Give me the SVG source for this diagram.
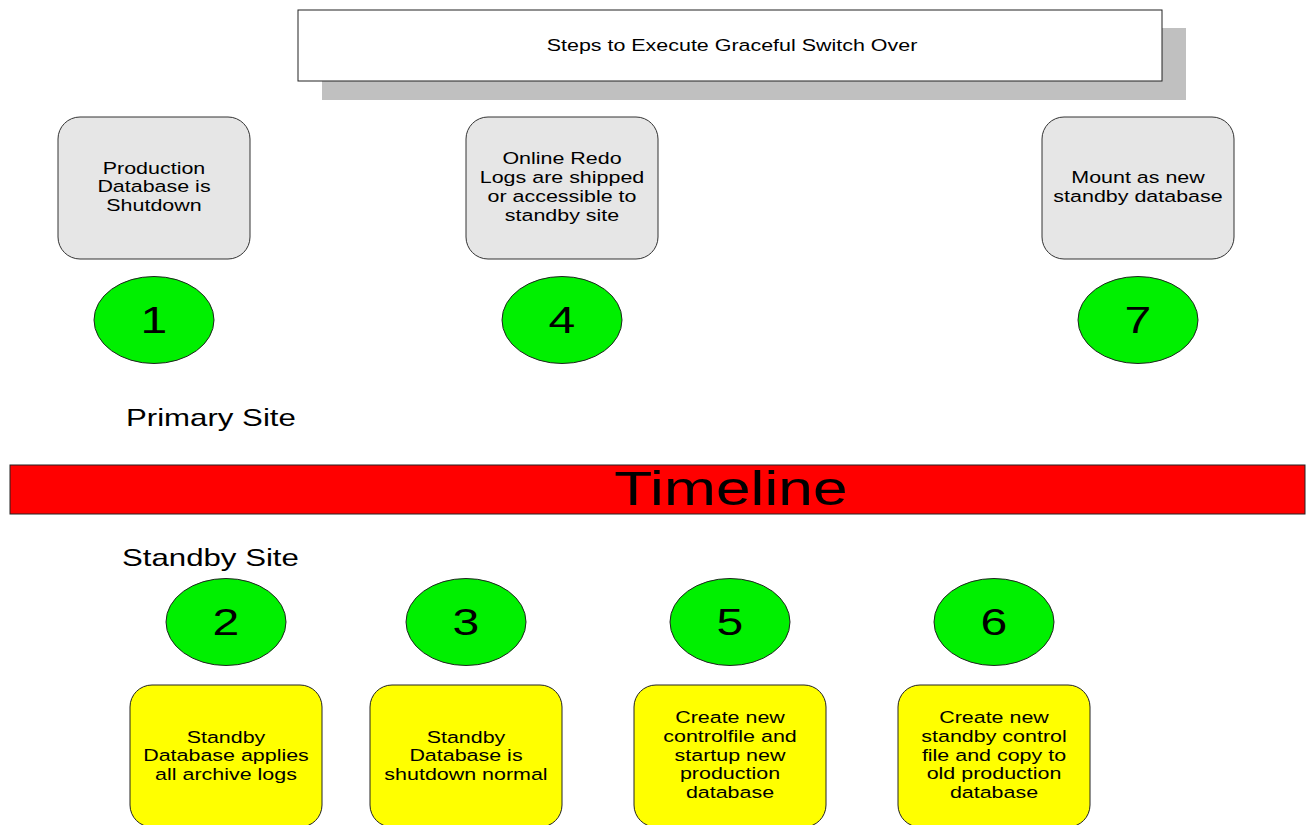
<svg xmlns="http://www.w3.org/2000/svg" width="1307" height="825" viewBox="0 0 1307 825">
  <style>
    text { font-family: "Liberation Sans", Arial, sans-serif; fill: #000; text-anchor: middle; }
    .box { font-size: 16.5px; }
    .num { font-size: 37px; }
    .site { font-size: 24px; text-anchor: start; }
    .step-grey { fill: #e6e6e6; stroke: #333; stroke-width: 1; }
    .step-yellow { fill: #ffff00; stroke: #222; stroke-width: 1; }
    .badge { fill: #00f000; stroke: #222; stroke-width: 1; }
  </style>

  <rect width="1307" height="825" fill="#ffffff"/>

  <!-- title banner with drop shadow -->
  <g id="title">
    <rect x="322" y="28" width="864" height="72" fill="#c0c0c0"/>
    <rect x="298" y="10" width="864" height="71" fill="#ffffff" stroke="#222" stroke-width="1"/>
    <text transform="matrix(1.3 0 0 1 732 0)" y="51" style="font-size:16.5px">Steps to Execute Graceful Switch Over</text>
  </g>

  <!-- primary site steps -->
  <g id="step1">
    <rect class="step-grey" x="58" y="117" width="192" height="142" rx="22"/>
    <text class="box" transform="matrix(1.3 0 0 1 154 0)" y="174"><tspan x="0">Production</tspan><tspan x="0" dy="18.5">Database is</tspan><tspan x="0" dy="18.5">Shutdown</tspan></text>
    <ellipse class="badge" cx="154" cy="320" rx="60" ry="43.5"/>
    <text class="num" transform="matrix(1.3 0 0 1 154 0)" y="333">1</text>
  </g>

  <g id="step4">
    <rect class="step-grey" x="466" y="117" width="192" height="142" rx="22"/>
    <text class="box" transform="matrix(1.3 0 0 1 562 0)" y="164"><tspan x="0">Online Redo</tspan><tspan x="0" dy="19">Logs are shipped</tspan><tspan x="0" dy="19">or accessible to</tspan><tspan x="0" dy="19">standby site</tspan></text>
    <ellipse class="badge" cx="562" cy="320" rx="60" ry="43.5"/>
    <text class="num" transform="matrix(1.3 0 0 1 562 0)" y="333">4</text>
  </g>

  <g id="step7">
    <rect class="step-grey" x="1042" y="117" width="192" height="142" rx="22"/>
    <text class="box" transform="matrix(1.3 0 0 1 1138 0)" y="183"><tspan x="0">Mount as new</tspan><tspan x="0" dy="19">standby database</tspan></text>
    <ellipse class="badge" cx="1138" cy="320" rx="60" ry="43.5"/>
    <text class="num" transform="matrix(1.3 0 0 1 1138 0)" y="333">7</text>
  </g>

  <g id="primary-site">
    <text class="site" transform="matrix(1.3 0 0 1 126 0)" x="0" y="426">Primary Site</text>
  </g>

  <!-- timeline bar -->
  <g id="timeline">
    <rect x="10" y="465" width="1295" height="49" fill="#ff0000" stroke="#222" stroke-width="1"/>
    <text transform="matrix(1.3 0 0 1 731 0)" y="505" style="font-size:48px">Timeline</text>
  </g>

  <g id="standby-site">
    <text class="site" transform="matrix(1.3 0 0 1 122 0)" x="0" y="566">Standby Site</text>
  </g>

  <!-- standby site steps -->
  <g id="step2">
    <ellipse class="badge" cx="226" cy="622" rx="60" ry="43.5"/>
    <text class="num" transform="matrix(1.3 0 0 1 226 0)" y="635">2</text>
    <rect class="step-yellow" x="130" y="685" width="192" height="142" rx="22"/>
    <text class="box" transform="matrix(1.3 0 0 1 226 0)" y="743"><tspan x="0">Standby</tspan><tspan x="0" dy="18.5">Database applies</tspan><tspan x="0" dy="18.5">all archive logs</tspan></text>
  </g>

  <g id="step3">
    <ellipse class="badge" cx="466" cy="622" rx="60" ry="43.5"/>
    <text class="num" transform="matrix(1.3 0 0 1 466 0)" y="635">3</text>
    <rect class="step-yellow" x="370" y="685" width="192" height="142" rx="22"/>
    <text class="box" transform="matrix(1.3 0 0 1 466 0)" y="743"><tspan x="0">Standby</tspan><tspan x="0" dy="18.5">Database is</tspan><tspan x="0" dy="18.5">shutdown normal</tspan></text>
  </g>

  <g id="step5">
    <ellipse class="badge" cx="730" cy="622" rx="60" ry="43.5"/>
    <text class="num" transform="matrix(1.3 0 0 1 730 0)" y="635">5</text>
    <rect class="step-yellow" x="634" y="685" width="192" height="142" rx="22"/>
    <text class="box" transform="matrix(1.3 0 0 1 730 0)" y="723"><tspan x="0">Create new</tspan><tspan x="0" dy="18.8">controlfile and</tspan><tspan x="0" dy="18.8">startup new</tspan><tspan x="0" dy="18.8">production</tspan><tspan x="0" dy="18.8">database</tspan></text>
  </g>

  <g id="step6">
    <ellipse class="badge" cx="994" cy="622" rx="60" ry="43.5"/>
    <text class="num" transform="matrix(1.3 0 0 1 994 0)" y="635">6</text>
    <rect class="step-yellow" x="898" y="685" width="192" height="142" rx="22"/>
    <text class="box" transform="matrix(1.3 0 0 1 994 0)" y="723"><tspan x="0">Create new</tspan><tspan x="0" dy="18.8">standby control</tspan><tspan x="0" dy="18.8">file and copy to</tspan><tspan x="0" dy="18.8">old production</tspan><tspan x="0" dy="18.8">database</tspan></text>
  </g>

  <!-- no connectors in this chart; group kept for structure -->
  <g id="connectors"/>
</svg>
